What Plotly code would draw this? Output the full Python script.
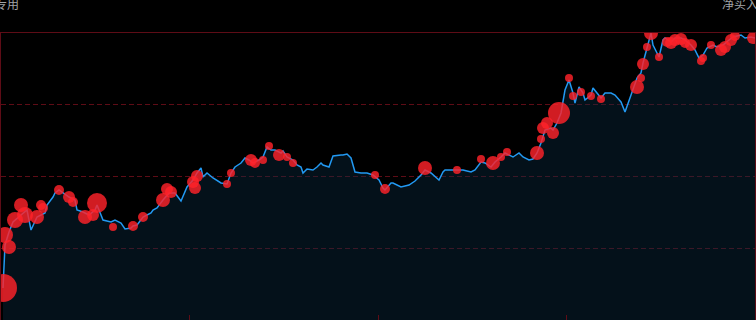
import plotly.graph_objects as go

# Price line (trading-day index, price)
day = [1, 2, 4, 6, 10, 13, 15, 16, 18, 22, 23, 26, 27, 29, 31, 34, 37, 38, 41, 44,
       47, 48, 50, 51, 55, 57, 60, 62, 65, 66, 68, 71, 73, 75, 76, 78, 81, 84, 87, 90,
       93, 96, 98, 100, 101, 103, 106, 110, 113, 115, 117, 120, 122, 124, 126, 129, 131, 133, 135, 137,
       140, 141, 143, 146, 148, 150, 151, 153, 156, 158, 160, 161, 164, 166, 170, 171, 173, 175, 177, 180,
       183, 186, 189, 191, 192, 195, 196, 200, 204, 207, 210, 212, 215, 216, 219, 221, 222, 227, 231, 235,
       237, 240, 242, 245, 247, 250, 252, 256, 259, 261, 264, 266, 268, 270, 271, 272, 275, 276, 278, 280,
       282, 284, 286, 287, 289, 291, 292, 295, 296, 298, 300, 302, 305, 307, 310, 312, 314, 316, 318, 320,
       321, 323, 324, 325, 326, 328, 329, 331, 332, 335, 337, 340, 342, 345, 347, 349, 351, 353, 356, 358,
       361, 364, 366, 370, 372, 375, 377]
price = [13.2, 17.5, 18.8, 19.8, 20.5, 21.0, 19.0, 19.5, 20.3, 20.7, 21.5, 22.3, 22.7, 23.0, 22.7, 22.3, 22.0, 21.0, 20.8, 20.5,
         21.0, 21.5, 20.5, 20.0, 19.8, 20.0, 19.7, 19.1, 19.2, 19.4, 19.5, 20.3, 20.5, 20.7, 21.0, 21.2, 22.0, 22.7, 22.7, 21.9,
         23.3, 24.0, 24.7, 25.2, 24.3, 24.7, 24.2, 23.7, 23.6, 24.7, 25.3, 25.7, 26.2, 26.0, 25.7, 26.0, 26.3, 27.3, 27.0, 27.0,
         26.7, 26.9, 26.3, 26.0, 25.5, 25.3, 24.7, 25.1, 25.0, 25.3, 25.7, 25.5, 25.3, 26.4, 26.5, 26.5, 26.6, 26.2, 24.8, 24.7,
         24.7, 24.5, 24.0, 23.2, 23.0, 23.7, 23.7, 23.3, 23.5, 23.9, 24.5, 25.0, 24.7, 24.5, 24.0, 24.8, 25.0, 25.0, 25.0, 24.8,
         25.0, 25.8, 25.7, 25.3, 25.8, 26.3, 26.7, 26.3, 26.7, 26.3, 26.0, 26.1, 26.7, 27.7, 28.3, 29.0, 29.2, 29.0, 29.7, 30.7,
         33.0, 34.0, 32.7, 31.7, 33.3, 32.7, 32.0, 32.5, 33.2, 32.7, 32.2, 32.7, 32.7, 32.5, 31.8, 30.8, 32.0, 33.2, 34.2, 34.7,
         35.7, 37.2, 38.0, 38.7, 37.5, 36.7, 36.3, 38.0, 38.2, 37.8, 38.2, 38.2, 38.0, 37.5, 37.0, 36.2, 36.5, 37.2, 37.5, 37.3,
         37.5, 38.0, 38.3, 38.5, 38.2, 38.3, 38.2]

# Special-seat net buying events (day, price, amount)
buy_day = [1, 2, 4, 7, 10, 12, 18, 20, 21, 29, 34, 36, 42, 46, 48, 56, 66, 71, 81, 83,
           85, 96, 97, 98, 113, 115, 125, 127, 131, 134, 139, 143, 146, 187, 192, 212, 228, 240, 246, 250,
           253, 268, 270, 271, 273, 276, 279, 284, 286, 290, 295, 300, 318, 320, 321, 323, 325, 329, 333, 335,
           337, 340, 342, 345, 350, 351, 355, 360, 362, 365, 367, 376]
buy_price = [13.2, 18.5, 17.3, 20.0, 21.5, 20.5, 20.3, 21.5, 21.2, 23.0, 22.3, 21.8, 20.3, 20.5, 21.7, 19.3, 19.4, 20.3, 22.0, 23.1,
             22.8, 23.8, 23.2, 24.4, 23.6, 24.7, 26.0, 25.7, 26.0, 27.4, 26.5, 26.3, 25.7, 24.5, 23.1, 25.2, 25.0, 26.1, 25.7, 26.3,
             26.8, 26.7, 28.1, 29.2, 29.7, 28.7, 30.7, 34.2, 32.4, 32.8, 32.4, 32.1, 33.3, 34.2, 35.6, 37.3, 38.7, 36.3, 37.8, 37.7,
             38.0, 38.1, 37.7, 37.5, 35.9, 36.2, 37.5, 37.0, 37.3, 38.0, 38.4, 38.2]
net_buy = [2.8, 1.6, 1.4, 1.6, 1.4, 1.6, 1.4, 1.0, 1.0, 1.0, 1.2, 1.0, 1.4, 1.2, 2.0, 0.8, 1.0, 1.0, 1.4, 1.2,
           1.2, 1.2, 1.2, 1.2, 0.8, 0.8, 1.2, 1.0, 0.8, 0.8, 1.2, 0.8, 0.8, 0.8, 1.0, 1.4, 0.8, 0.8, 1.4, 0.8,
           0.8, 1.4, 0.8, 1.2, 1.2, 1.2, 2.2, 0.8, 0.8, 0.8, 0.8, 0.8, 1.4, 0.8, 1.2, 0.8, 1.4, 0.8, 1.0, 1.2,
           1.2, 1.2, 1.0, 1.2, 0.8, 0.8, 0.8, 1.2, 1.2, 1.2, 1.0, 1.2]

x_range = [0, 377]
y_range = [10, 38.7]
frame = "#5e0c16"

fig = go.Figure()
fig.add_trace(go.Scatter(
    x=day, y=price, mode="lines",
    line=dict(color="#2299f2", width=1.5),
    fill="tozeroy", fillcolor="rgba(10,42,66,0.4)",
    hoverinfo="skip", showlegend=False,
))
fig.add_trace(go.Scatter(
    x=buy_day, y=buy_price, mode="markers",
    marker=dict(size=[v * 10 for v in net_buy], sizemode="diameter",
                color="#ff2229", opacity=0.82, line=dict(width=0)),
    showlegend=False,
))

fig.update_layout(
    width=756, height=320,
    margin=dict(l=1, r=1, t=33, b=0),
    paper_bgcolor="#000000", plot_bgcolor="#000000",
    font=dict(family="Noto Sans CJK SC, Noto Sans, sans-serif", color="#a0a4a8", size=12),
    annotations=[
        dict(text="专用", xref="paper", yref="paper", x=0.0265, y=1.103,
             xanchor="right", yanchor="middle", showarrow=False,
             font=dict(size=12, color="#a0a4a8")),
        dict(text="净买入", xref="paper", yref="paper", x=0.9536, y=1.103,
             xanchor="left", yanchor="middle", showarrow=False,
             font=dict(size=12, color="#a0a4a8")),
    ],
)
fig.update_xaxes(
    range=x_range, showgrid=False, zeroline=False,
    showline=True, mirror=True, linecolor=frame, linewidth=1,
    ticks="inside", ticklen=5, tickcolor=frame,
    tickvals=[x_range[0] + (x_range[1] - x_range[0]) * k / 4 for k in (1, 2, 3)],
    showticklabels=False,
)
fig.update_yaxes(
    range=y_range, zeroline=False,
    showgrid=True, gridcolor=frame, griddash="5px,3px", gridwidth=1,
    showline=True, mirror=True, linecolor=frame, linewidth=1,
    tickvals=[y_range[0] + (y_range[1] - y_range[0]) * k / 4 for k in (1, 2, 3)],
    showticklabels=False, ticks="",
)

fig.write_html("out.html")
